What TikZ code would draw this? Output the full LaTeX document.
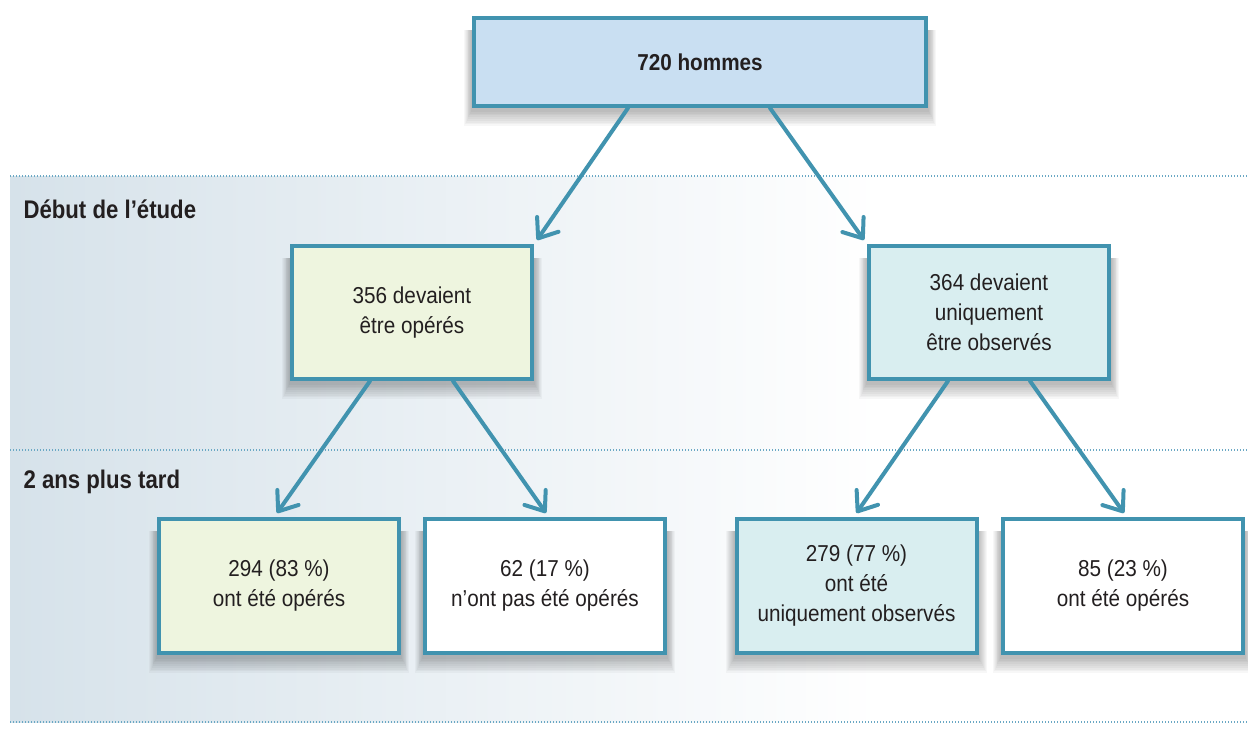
\documentclass[tikz,border=0pt]{standalone}
\usepackage{fontspec}
\setmainfont{Liberation Sans}[FakeStretch=0.9]
\newfontfamily\heavy{Liberation Sans Bold}[FakeStretch=0.87]
\usetikzlibrary{arrows.meta,calc}
\pgfdeclarelayer{background}
\pgfsetlayers{background,main}
\definecolor{edge}{HTML}{4193AF}
\definecolor{dotc}{HTML}{6AA8C4}
\definecolor{bgl}{HTML}{D6E2EA}
\definecolor{topfill}{HTML}{C9DFF2}
\definecolor{greenfill}{HTML}{EEF5DF}
\definecolor{tealfill}{HTML}{D9EEF0}
\definecolor{txt}{HTML}{231F20}
\tikzset{
  box/.style={draw=edge, line width=4pt, minimum width=240pt, minimum height=133pt,
    align=center, text=txt, font=\fontsize{23}{30}\selectfont},
  arr/.style={draw=edge, line width=4pt, line cap=round,
    -{Straight Barb[length=17pt,width=26pt,line cap=round,round]}},
  sep/.style={dotc, line width=2pt, dash pattern=on 1.4pt off 1.6pt},
  lab/.style={anchor=west, text=txt, font=\fontsize{25.5}{28}\heavy},
  shadowlayer/.style={fill=black, fill opacity=0.03, overlay}
}
\newcommand\softshadow[1]{%
  \begin{pgfonlayer}{background}
  \foreach \i in {1,...,9}{%
    \fill[shadowlayer] ([xshift={-\i*0.9pt},yshift={-(2+1.8*\i)*1pt}]#1.south west)
      rectangle ([xshift={\i*0.9pt},yshift={-14pt}]#1.north east);
  }
  \end{pgfonlayer}}
\begin{document}
\begin{tikzpicture}[x=1pt,y=1pt]
\useasboundingbox (0,0) rectangle (1248,-744);
\begin{pgfonlayer}{background}
\fill[white, overlay] (0,0) rectangle (1248,-744);
\shade[left color=bgl, right color=white, overlay] (10,-176) rectangle (880,-722);
\draw[sep, overlay] (10,-176) -- (1248,-176);
\draw[sep, overlay] (10,-450) -- (1248,-450);
\draw[sep, overlay] (10,-722) -- (1248,-722);
\end{pgfonlayer}
\node[lab] (l1) at (20,-209) {Début de l’étude};
\node[lab] (l2) at (20,-482) {2 ans plus tard};

\node[box, fill=topfill, minimum width=452pt, minimum height=88pt, font=\fontsize{23}{30}\selectfont\bfseries] (top) at (700,-62) {720 hommes};
\node[box, fill=greenfill] (lm) at (412,-312.5) {356 devaient\\être opérés};
\node[box, fill=tealfill] (rm) at (989,-312.5) {364 devaient\\uniquement\\être observés};
\node[box, fill=greenfill, minimum height=134pt] (b1) at (279,-586) {294 (83 \%)\\ont été opérés};
\node[box, fill=white, minimum height=134pt] (b2) at (545,-586) {62 (17 \%)\\n'ont pas été opérés};
\node[box, fill=tealfill, minimum height=134pt] (b3) at (856.5,-586) {279 (77 \%)\\ont été\\uniquement observés};
\node[box, fill=white, minimum height=134pt] (b4) at (1123,-586) {85 (23 \%)\\ont été opérés};
\softshadow{top}\softshadow{lm}\softshadow{rm}
\softshadow{b1}\softshadow{b2}\softshadow{b3}\softshadow{b4}

\draw[arr] ([xshift=-72pt]top.south) -- ([xshift=3pt,yshift=4pt]lm.north east);
\draw[arr] ([xshift=70pt]top.south) -- ([xshift=-3pt,yshift=4pt]rm.north west);
\draw[arr] ([xshift=-42pt]lm.south) -- ([xshift=-2pt,yshift=4pt]b1.north);
\draw[arr] ([xshift=41pt]lm.south) -- ([xshift=1pt,yshift=4pt]b2.north);
\draw[arr] ([xshift=-41pt]rm.south) -- ([xshift=0pt,yshift=4pt]b3.north);
\draw[arr] ([xshift=41pt]rm.south) -- ([xshift=1pt,yshift=4pt]b4.north);
\end{tikzpicture}
\end{document}
